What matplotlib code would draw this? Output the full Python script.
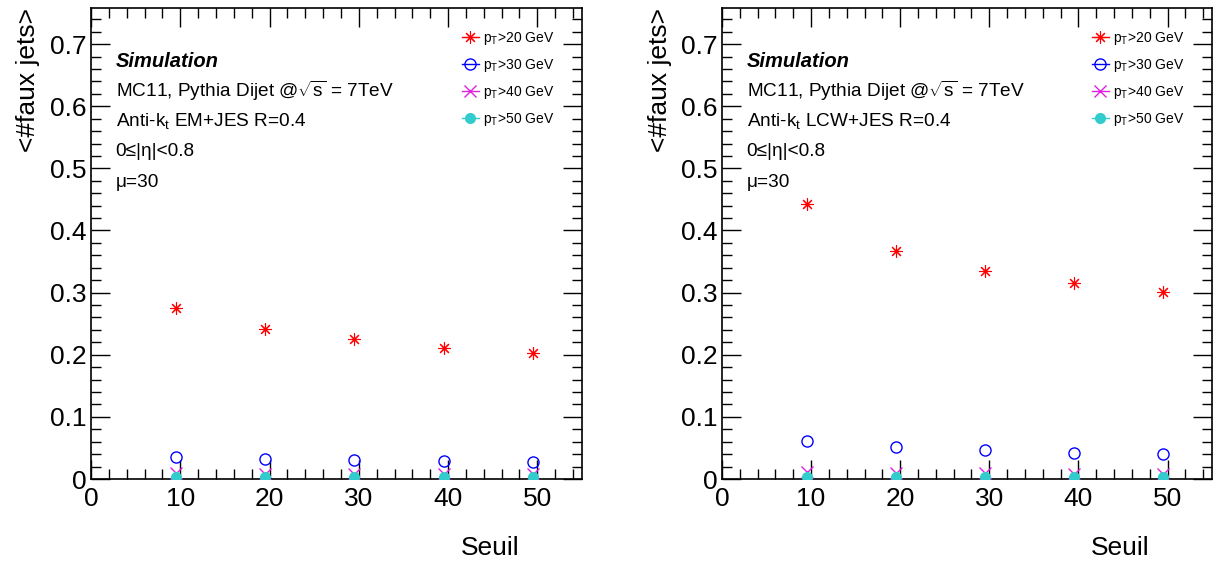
import matplotlib
matplotlib.use('Agg')
import matplotlib.pyplot as plt
from matplotlib.ticker import MultipleLocator
from matplotlib.lines import Line2D

plt.rcParams['font.family'] = ['Liberation Sans', 'DejaVu Sans']
plt.rcParams['mathtext.fontset'] = 'custom'
plt.rcParams['mathtext.rm'] = 'Liberation Sans'
plt.rcParams['mathtext.it'] = 'Liberation Sans'

# seuil (bin centres)
seuil = [9.5, 19.5, 29.5, 39.5, 49.5]

# left panel: EM+JES
em_pt20 = [0.275, 0.241, 0.226, 0.211, 0.203]
em_pt30 = [0.035, 0.032, 0.030, 0.029, 0.028]
em_pt40 = [0.009, 0.008, 0.008, 0.008, 0.008]
em_pt50 = [0.003, 0.003, 0.003, 0.003, 0.003]

# right panel: LCW+JES
lcw_pt20 = [0.442, 0.367, 0.335, 0.315, 0.301]
lcw_pt30 = [0.061, 0.051, 0.047, 0.042, 0.041]
lcw_pt40 = [0.011, 0.009, 0.009, 0.008, 0.008]
lcw_pt50 = [0.003, 0.003, 0.003, 0.003, 0.003]

labels = ['p$_{T}$>20 GeV', 'p$_{T}$>30 GeV', 'p$_{T}$>40 GeV', 'p$_{T}$>50 GeV']
calib = ['EM+JES', 'LCW+JES']

colors = ['#ff0000', '#0000ff', '#e020e0', '#33cccc']
styles = [dict(marker=(8, 2, 0), ms=9, mew=0.8, mfc='none'),
          dict(marker='o', ms=8, mew=1.0, mfc='none'),
          dict(marker='x', ms=8, mew=1.0),
          dict(marker='o', ms=8, mew=0)]


def draw(ax, series, calname):
    for vals, c, st in zip(series, colors, styles):
        ax.plot(seuil, vals, ls='none', color=c, mec=c, zorder=3, **st)
    ax.set_xlim(0, 55)
    ax.set_ylim(0, 0.758)
    ax.xaxis.set_major_locator(MultipleLocator(10))
    ax.xaxis.set_minor_locator(MultipleLocator(2))
    ax.yaxis.set_major_locator(MultipleLocator(0.1))
    ax.yaxis.set_minor_locator(MultipleLocator(0.02))
    ax.tick_params(which='both', direction='in', top=True, right=True,
                   labelsize=19, width=1)
    ax.tick_params(which='major', length=14)
    ax.tick_params(which='minor', length=7)
    ax.tick_params(axis='x', which='major', pad=6)
    ax.set_yticks([0, 0.1, 0.2, 0.3, 0.4, 0.5, 0.6, 0.7])
    ax.set_yticklabels(['0', '0.1', '0.2', '0.3', '0.4', '0.5', '0.6', '0.7'])
    for s in ax.spines.values():
        s.set_linewidth(1.2)
    ax.set_ylabel('<#faux jets>', fontsize=19, loc='top')
    ax.yaxis.set_label_coords(-0.103, 1.0)
    ax.set_xlabel('Seuil', fontsize=19, loc='right')
    ax.xaxis.set_label_coords(0.873, -0.12)

    ax.text(0.05, 0.886, 'Simulation', transform=ax.transAxes, fontsize=14.5,
            fontweight='bold', fontstyle='italic', va='center')
    lines = ['MC11, Pythia Dijet @$\\sqrt{\\mathrm{s}}$ = 7TeV',
             'Anti-k$_{t}$ ' + calname + ' R=0.4',
             '0\u2264|\u03b7|<0.8',
             '\u03bc=30']
    for i, t in enumerate(lines):
        ax.text(0.05, 0.824 - i * 0.0648, t, transform=ax.transAxes,
                fontsize=13.7, va='center')

    handles = [Line2D([], [], color=c, lw=1, mec=c, **st)
               for c, st in zip(colors, styles)]
    ax.legend(handles, labels, loc='upper right', bbox_to_anchor=(0.96, 0.972),
              frameon=False, fontsize=10, handlelength=1.2, labelspacing=0.72,
              handletextpad=0.3, borderaxespad=0.2)


fig = plt.figure(figsize=(12.19, 5.64), dpi=100)
ax1 = fig.add_axes([0.0747, 0.1507, 0.4027, 0.835])
ax2 = fig.add_axes([0.5923, 0.1507, 0.4020, 0.835])

draw(ax1, [em_pt20, em_pt30, em_pt40, em_pt50], calib[0])
draw(ax2, [lcw_pt20, lcw_pt30, lcw_pt40, lcw_pt50], calib[1])

fig.savefig('out.png', dpi=100)
